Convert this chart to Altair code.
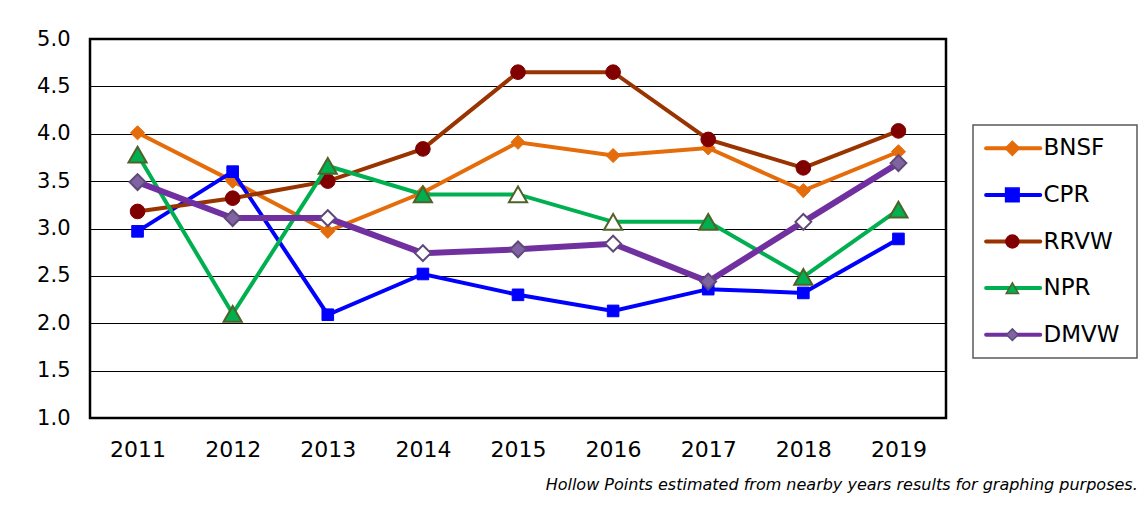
import altair as alt
import pandas as pd

years = ["2011", "2012", "2013", "2014", "2015", "2016", "2017", "2018", "2019"]
series_names = ["BNSF", "CPR", "RRVW", "NPR", "DMVW"]

bnsf = [4.01, 3.50, 2.97, 3.38, 3.91, 3.77, 3.85, 3.40, 3.81]
cpr = [2.97, 3.60, 2.09, 2.52, 2.30, 2.13, 2.36, 2.32, 2.89]
rrvw = [3.18, 3.32, 3.50, 3.84, 4.65, 4.65, 3.94, 3.64, 4.03]
npr = [3.78, 2.10, 3.66, 3.36, 3.36, 3.07, 3.07, 2.49, 3.20]
dmvw = [3.49, 3.11, 3.11, 2.74, 2.78, 2.84, 2.44, 3.07, 3.69]

# hollow (estimated) points
bnsf_hollow = [False] * 9
cpr_hollow = [False] * 9
rrvw_hollow = [False] * 9
npr_hollow = [False, False, False, False, True, True, False, False, False]
dmvw_hollow = [False, False, True, True, False, True, False, True, False]

values = [bnsf, cpr, rrvw, npr, dmvw]
hollows = [bnsf_hollow, cpr_hollow, rrvw_hollow, npr_hollow, dmvw_hollow]

line_colors = ["#E46C0A", "#0000FF", "#993300", "#00B050", "#7030A0"]
line_widths = [4, 4, 4, 4, 6]
marker_shapes = ["diamond", "square", "circle", "triangle-up", "diamond"]
marker_sizes = [200, 135, 215, 330, 250]
marker_fills = ["#E46C0A", "#0000FF", "#800000", "#00B050", "#8064A2"]
marker_strokes = ["#E46C0A", "#0000FF", "#800000", "#4F6228", "#5F497A"]
marker_stroke_widths = [1, 1, 1, 2, 2]

y_ticks = [1.0, 1.5, 2.0, 2.5, 3.0, 3.5, 4.0, 4.5, 5.0]
footnote = "Hollow Points estimated from nearby years results for graphing purposes."

FONT = "DejaVu Sans"

rows = []
for name, vals, hol in zip(series_names, values, hollows):
    for yr, v, h in zip(years, vals, hol):
        rows.append({"year": yr, "series": name, "value": v, "hollow": h})
df = pd.DataFrame(rows)

x_enc = alt.X(
    "year:O",
    sort=years,
    title=None,
    axis=alt.Axis(labelAngle=0, ticks=False, domain=False, grid=False,
                  labelPadding=21, labelFontSize=22, labelFont=FONT,
                  labelColor="black"),
)
y_enc = alt.Y(
    "value:Q",
    title=None,
    scale=alt.Scale(domain=[1, 5], nice=False, zero=False),
    axis=alt.Axis(values=y_ticks, format=".1f", grid=True, gridColor="black",
                  gridWidth=1, ticks=False, domain=False, labelPadding=20,
                  labelFontSize=21, labelFont=FONT, labelColor="black"),
)

layers = []
for i, name in enumerate(series_names):
    base = alt.Chart(df).transform_filter(alt.datum.series == name)
    line = base.mark_line(color=line_colors[i], strokeWidth=line_widths[i]).encode(
        x=x_enc, y=y_enc
    )
    pts = base.mark_point(
        shape=marker_shapes[i], size=marker_sizes[i], filled=True,
        stroke=marker_strokes[i], strokeWidth=marker_stroke_widths[i], opacity=1,
    ).encode(
        x=x_enc, y=y_enc,
        fill=alt.condition(alt.datum.hollow, alt.value("white"), alt.value(marker_fills[i])),
    )
    layers += [line, pts]

main = alt.layer(*layers).properties(
    width=856, height=379,
    view=alt.ViewBackground(stroke="black", strokeWidth=2.5),
)

# custom legend panel
leg_df = pd.DataFrame({"series": series_names})
ly = alt.Y("series:N", sort=series_names, axis=None, title=None)
lx_scale = alt.Scale(domain=[0, 10])
leg_base = alt.Chart(leg_df)
leg_line = leg_base.mark_rule(strokeCap="round").encode(
    x=alt.XDatum(0.8, type="quantitative", scale=lx_scale, axis=None),
    x2=alt.X2Datum(4.1),
    y=ly,
    color=alt.Color("series:N", scale=alt.Scale(domain=series_names, range=line_colors), legend=None),
    strokeWidth=alt.StrokeWidth("series:N", scale=alt.Scale(domain=series_names, range=line_widths), legend=None),
)
leg_pts = leg_base.mark_point(filled=True, opacity=1).encode(
    x=alt.XDatum(2.4, type="quantitative", scale=lx_scale, axis=None),
    y=ly,
    shape=alt.Shape("series:N", scale=alt.Scale(domain=series_names, range=marker_shapes), legend=None),
    fill=alt.Fill("series:N", scale=alt.Scale(domain=series_names, range=marker_fills), legend=None),
    stroke=alt.Stroke("series:N", scale=alt.Scale(domain=series_names, range=marker_strokes), legend=None),
    size=alt.Size("series:N", scale=alt.Scale(domain=series_names, range=marker_sizes), legend=None),
    strokeWidth=alt.value(1.5),
)
leg_text = leg_base.mark_text(align="left", baseline="middle", fontSize=23, font=FONT, color="black").encode(
    x=alt.XDatum(4.3, type="quantitative", scale=lx_scale, axis=None),
    y=ly,
    text="series:N",
)
legend_panel = alt.layer(leg_line, leg_pts, leg_text).properties(
    width=164, height=233,
    view=alt.ViewBackground(stroke="#595959", strokeWidth=1.5),
)

spacer = alt.Chart(leg_df).mark_text(opacity=0).encode(text=alt.value("")).properties(
    width=164, height=61,
    view=alt.ViewBackground(stroke=None, strokeWidth=0),
)

right_col = alt.vconcat(spacer, legend_panel, spacing=24)

chart = alt.hconcat(main, right_col, spacing=24).properties(
    title=alt.TitleParams(footnote, orient="bottom", anchor="end", fontStyle="italic",
                          fontSize=16, font=FONT, fontWeight="normal", offset=16,
                          color="black"),
    padding={"left": 27, "top": 18, "right": 0, "bottom": 2},
    background="white",
)

chart.save("out.html", embed_options={"renderer": "svg", "actions": False})
